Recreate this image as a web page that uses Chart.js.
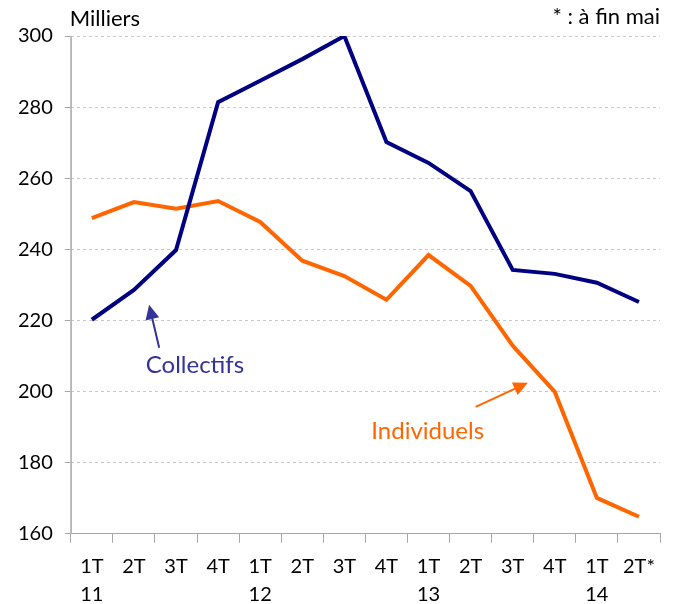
<!DOCTYPE html>
<html lang="fr">
  <head>
    <meta charset="UTF-8" />
    <title>Collectifs / Individuels</title>
    <script src="https://cdn.jsdelivr.net/npm/chart.js"></script>
    <style>
      html, body { margin: 0; padding: 0; background: #fff; }
      #wrap { width: 676px; height: 604px; }
    </style>
  </head>
  <body>
    <div id="wrap"><canvas id="chart"></canvas></div>
    <script>
      // quarters and years (second label line)
      const quarters = ["1T", "2T", "3T", "4T", "1T", "2T", "3T", "4T", "1T", "2T", "3T", "4T", "1T", "2T*"];
      const years = ["11", "", "", "", "12", "", "", "", "13", "", "", "", "14", ""];

      // values in thousands
      const collectifs = [220.2, 228.6, 239.8, 281.4, 287.4, 293.5, 300, 270.2, 264.3, 256.4, 234.2, 233.1, 230.6, 225.2];
      const individuels = [248.8, 253.3, 251.4, 253.6, 247.7, 236.8, 232.5, 225.8, 238.4, 229.7, 212.9, 199.9, 170.1, 164.8];

      const yTicks = [160, 180, 200, 220, 240, 260, 280, 300];

      const FONT = "Lato, 'Open Sans', sans-serif";
      const BLUE = "#000080";
      const ORANGE = "#FF6600";
      const AXIS = "#a6a6a6";

      // annotations: labels and arrows, placed in data coordinates
      const notes = [
        { text: "Collectifs", color: "#333399", at: [2.45, 207.5], from: [1.6, 212.3], to: [1.36, 224.4] },
        { text: "Individuels", color: ORANGE, at: [7.98, 188.7], from: [9.12, 195.7], to: [10.36, 202.5] },
      ];

      const labels = quarters.map((q, i) => [q, years[i]]);

      const extras = {
        id: "extras",
        afterDatasetsDraw(chart) {
          const { ctx, scales, chartArea } = chart;
          const xs = scales.x, ys = scales.y;
          const px = (i) => xs.getPixelForValue(0) + i * (xs.getPixelForValue(1) - xs.getPixelForValue(0));
          ctx.save();
          // solid y axis line (grid lines are dashed)
          ctx.strokeStyle = AXIS;
          ctx.lineWidth = 1;
          ctx.beginPath();
          ctx.moveTo(chartArea.left + 0.5, chartArea.top);
          ctx.lineTo(chartArea.left + 0.5, chartArea.bottom);
          ctx.stroke();

          ctx.font = "22px " + FONT;
          ctx.textBaseline = "middle";
          ctx.fillStyle = "#000";
          ctx.textAlign = "left";
          ctx.fillText("Milliers", chartArea.left - 1, chartArea.top - 17);
          ctx.textAlign = "right";
          ctx.fillText("* : à fin mai", chartArea.right, chartArea.top - 19);

          ctx.font = "24px " + FONT;
          notes.forEach((n) => {
            ctx.fillStyle = n.color;
            ctx.strokeStyle = n.color;
            ctx.textAlign = "center";
            ctx.fillText(n.text, px(n.at[0]), ys.getPixelForValue(n.at[1]));
            const x1 = px(n.from[0]), y1 = ys.getPixelForValue(n.from[1]);
            const x2 = px(n.to[0]), y2 = ys.getPixelForValue(n.to[1]);
            const a = Math.atan2(y2 - y1, x2 - x1);
            const head = 16, w = 0.45;
            ctx.lineWidth = 2;
            ctx.beginPath();
            ctx.moveTo(x1, y1);
            ctx.lineTo(x2 - Math.cos(a) * head * 0.8, y2 - Math.sin(a) * head * 0.8);
            ctx.stroke();
            ctx.beginPath();
            ctx.moveTo(x2, y2);
            ctx.lineTo(x2 - head * Math.cos(a - w), y2 - head * Math.sin(a - w));
            ctx.lineTo(x2 - head * Math.cos(a + w), y2 - head * Math.sin(a + w));
            ctx.closePath();
            ctx.fill();
          });
          ctx.restore();
        },
      };

      new Chart(document.getElementById("chart"), {
        type: "line",
        data: {
          labels: labels,
          datasets: [
            { label: "Collectifs", data: collectifs, borderColor: BLUE, borderWidth: 4, pointRadius: 0, tension: 0, borderJoinStyle: "miter" },
            { label: "Individuels", data: individuels, borderColor: ORANGE, borderWidth: 4, pointRadius: 0, tension: 0, borderJoinStyle: "miter" },
          ],
        },
        options: {
          responsive: true,
          maintainAspectRatio: false,
          animation: false,
          layout: { padding: { top: 36, right: 16, left: 6, bottom: -14 } },
          plugins: { legend: { display: false }, tooltip: { enabled: false } },
          scales: {
            x: {
              offset: true,
              grid: { offset: true, drawOnChartArea: false, drawTicks: true, tickLength: 9, color: AXIS },
              border: { color: AXIS, width: 1 },
              ticks: { color: "#000", font: { family: FONT, size: 20, lineHeight: 1.38 }, maxRotation: 0, autoSkip: false, padding: 10 },
            },
            y: {
              min: 160,
              max: 300,
              afterBuildTicks: (axis) => { axis.ticks = yTicks.map((v) => ({ value: v })); },
              grid: { color: "#c8c8c8", tickColor: AXIS, tickLength: 6, tickBorderDash: [] },
              border: { color: "#c8c8c8", dash: [3, 3] },
              ticks: { color: "#000", font: { family: FONT, size: 20 }, padding: 12 },
            },
          },
        },
        plugins: [extras],
      });
    </script>
  </body>
</html>
